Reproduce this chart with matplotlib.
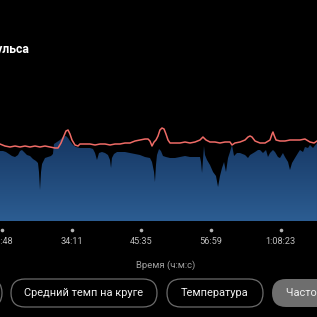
from matplotlib import pyplot as plt
from matplotlib.patches import FancyBboxPatch
import numpy as np

# elapsed time in seconds for the heart rate trace
hrTimes = [1348, 1397, 1447, 1496, 1545, 1594, 1643, 1692, 1741, 1790, 1839, 1888, 1918, 1947,
           1967, 1996, 2016, 2035, 2055, 2084, 2114, 2133, 2183, 2232, 2281, 2330, 2379, 2428,
           2477, 2526, 2575, 2624, 2673, 2722, 2771, 2801, 2820, 2840, 2860, 2879, 2899, 2918,
           2938, 2958, 2977, 2997, 3017, 3066, 3115, 3164, 3213, 3262, 3311, 3340, 3370, 3409,
           3458, 3507, 3556, 3605, 3625, 3654, 3704, 3753, 3782, 3802, 3821, 3851, 3900, 3949,
           3998, 4018, 4027, 4037, 4057, 4096, 4145, 4194, 4243, 4292, 4341, 4390, 4430, 4459]
hrValues = [77, 75, 74, 75, 74, 75, 74, 75, 74, 75, 74, 73, 73, 78,
            83, 90, 91, 87, 81, 76, 75, 77, 77, 77, 76, 77, 77, 76,
            77, 77, 78, 78, 80, 81, 82, 82, 80, 75, 79, 81, 85, 91,
            93, 92, 87, 81, 78, 78, 78, 79, 78, 79, 81, 84, 81, 79,
            79, 78, 79, 79, 76, 78, 79, 81, 84, 85, 84, 80, 78, 78,
            81, 87, 89, 86, 81, 80, 80, 81, 81, 81, 82, 79, 78, 80]

# elapsed time in seconds for the filled (pace) series
paceTimes = [1348, 1378, 1407, 1437, 1466, 1496, 1525, 1545, 1564, 1584, 1613, 1643, 1672, 1702,
             1721, 1731, 1741, 1751, 1761, 1790, 1819, 1849, 1868, 1878, 1908, 1937, 1967, 1996,
             2016, 2035, 2065, 2094, 2133, 2183, 2232, 2261, 2281, 2300, 2320, 2349, 2379, 2408,
             2428, 2438, 2447, 2467, 2497, 2526, 2575, 2624, 2673, 2722, 2771, 2820, 2840, 2860,
             2869, 2879, 2889, 2909, 2928, 2948, 2977, 3017, 3066, 3115, 3164, 3213, 3262, 3311,
             3321, 3331, 3340, 3350, 3360, 3380, 3409, 3439, 3468, 3488, 3507, 3527, 3547, 3566,
             3586, 3605, 3625, 3645, 3674, 3704, 3753, 3782, 3802, 3851, 3880, 3900, 3929, 3959,
             3978, 3998, 4027, 4047, 4076, 4096, 4125, 4145, 4175, 4194, 4214, 4243, 4273, 4292,
             4322, 4341, 4371, 4390, 4420, 4459]
paceValues = [70, 70, 69, 67, 65, 64, 66, 70, 71, 69, 66, 65, 62, 60,
              58, 49, 31, 49, 57, 63, 64, 65, 67, 77, 79, 81, 84, 85,
              83, 80, 76, 74, 73, 73, 73, 72, 68, 61, 68, 69, 68, 66,
              61, 53, 63, 67, 69, 69, 69, 68, 67, 66, 64, 63, 59, 49,
              39, 56, 66, 72, 70, 65, 64, 63, 63, 64, 65, 64, 64, 64,
              59, 48, 61, 75, 66, 61, 56, 49, 45, 34, 45, 53, 59, 49,
              63, 69, 76, 65, 68, 68, 66, 63, 66, 69, 71, 71, 68, 71,
              64, 68, 71, 69, 64, 63, 68, 64, 59, 51, 58, 63, 68, 71,
              69, 74, 73, 76, 73, 78]

tickTimes = [1368, 2051, 2735, 3419, 4103]
tickLabels = ['22:48', '34:11', '45:35', '56:59', '1:08:23']
buttonLabels = ['Средний темп на круге', 'Температура', 'Частота пульса']

plt.rcParams['font.family'] = ['Roboto', 'DejaVu Sans']


def drawChart(ax):
    ax.set_xlim(1348.4, 4459.1)
    ax.set_ylim(0, 100)
    ax.axis('off')

    # gradient area clipped to the pace polygon
    poly = ax.fill_between(paceTimes, paceValues, 0, color='none', lw=0)
    grad = np.linspace(1, 0, 256).reshape(-1, 1)
    cmap = plt.matplotlib.colors.LinearSegmentedColormap.from_list('blu', ['#163763', '#2c5d92'])
    img = ax.imshow(grad, cmap=cmap, aspect='auto', extent=[1348.4, 4459.1, 0, 85],
                    origin='lower', zorder=1)
    img.set_clip_path(poly.get_paths()[0], transform=ax.transData)

    ax.plot(hrTimes, hrValues, color='#ef6b66', lw=1.1, zorder=3, solid_joinstyle='round')

    ax.plot(tickTimes, [-9] * len(tickTimes), 'o', color='#b5b5b5', ms=2.6, mew=0, clip_on=False)
    for t, lab in zip(tickTimes, tickLabels):
        ax.text(t, -21, lab, color='#bdbdbd', fontsize=6.6, ha='center', va='center')
    ax.text(2977, -44, 'Время (ч:м:с)', color='#a0a0a0', fontsize=6.8, ha='center', va='center')


def drawButtons(ov):
    ov.set_xlim(0, 317)
    ov.set_ylim(317, 0)
    ov.axis('off')
    boxes = [(-120, 122, False), (11, 146, False), (167, 96, False), (272, 140, True)]
    for x, w, filled in boxes:
        p = FancyBboxPatch((x, 279), w, 28, boxstyle='round,pad=0,rounding_size=14',
                           fc='#6e6e6e' if filled else 'none', ec='none' if filled else '#6b6b6b',
                           lw=0.9)
        ov.add_patch(p)
    ov.text(84, 293, buttonLabels[0], color='#f0f0f0', fontsize=7.9, ha='center', va='center')
    ov.text(215, 293, buttonLabels[1], color='#f0f0f0', fontsize=7.9, ha='center', va='center')
    ov.text(286, 293, buttonLabels[2], color='#f0f0f0', fontsize=7.9, ha='left', va='center')


def main():
    fig = plt.figure(figsize=(3.17, 3.17), dpi=100, facecolor='black')
    ax = fig.add_axes([0, 96 / 317, 1, 100 / 317], facecolor='black')
    drawChart(ax)
    ov = fig.add_axes([0, 0, 1, 1], facecolor='none')
    drawButtons(ov)
    fig.text(29 / 317, 1 - 50 / 317, 'Частота пульса', color='white', fontsize=8.8,
             fontweight='bold', ha='right', va='center')
    fig.savefig('out.png', dpi=100, facecolor='black')


if __name__ == '__main__':
    main()
